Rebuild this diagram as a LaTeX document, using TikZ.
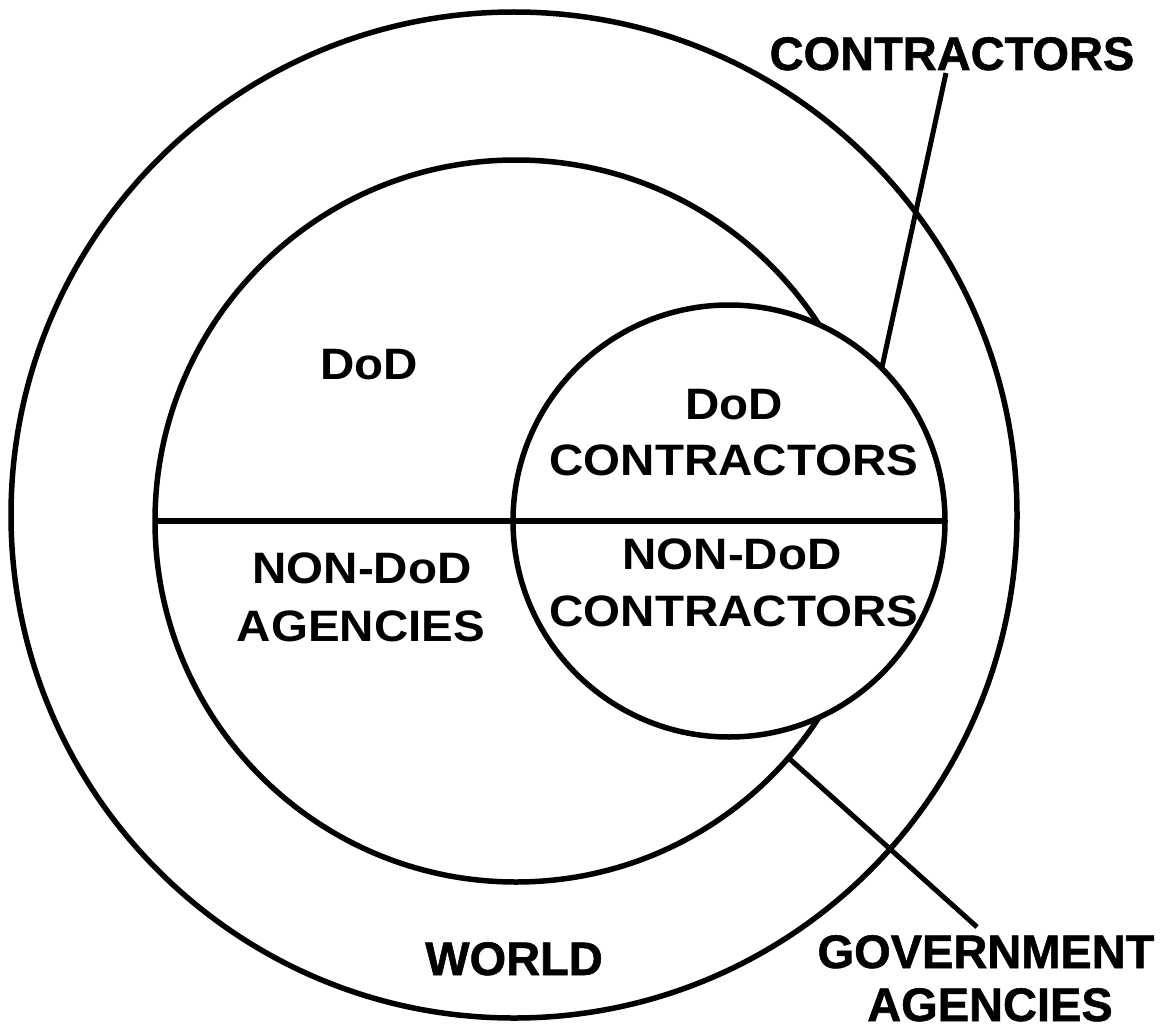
\documentclass[tikz,border=0pt]{standalone}
\usepackage{fontspec}
\setmainfont{Liberation Sans}
\newfontfamily\heavyfont{Liberation Sans Bold}[FakeBold=1.2]
\begin{document}
\begin{tikzpicture}[x=1pt,y=-1pt,
  ring/.style={circle, draw, line width=5.5pt, inner sep=0pt, outer sep=0pt},
  leader/.style={line width=5pt},
  intext/.style={anchor=base, inner sep=0pt, font=\fontsize{44}{50}\selectfont\bfseries},
  outtext/.style={anchor=base, inner sep=0pt, font=\fontsize{47}{54}\selectfont\heavyfont}]
\useasboundingbox (0,0) rectangle (1161,1030);
\node[ring, minimum size=1006pt] (world) at (514,515) {};
\node[ring, minimum size=722pt] (gov) at (516,521) {};
\node[ring, fill=white, minimum size=432pt] (contr) at (729,521) {};
\draw[line width=5.5pt] (gov.west) -- (contr.east);
\coordinate (ctop) at (946,73);
\coordinate (gbot) at (977,927);
\draw[leader] (contr.45.6) -- (ctop);
\draw[leader] (gov.-41.3) -- (gbot);
\node[intext] (dod) at (369,379) {\scalebox{1.08}[1]{DoD}};
\node[intext] (dodc1) at (734,419) {\scalebox{1.08}[1]{DoD}};
\node[intext] (dodc2) at (734,475) {\scalebox{1.08}[1]{CONTRACTORS}};
\node[intext] (ndc1) at (732,569) {\scalebox{1.08}[1]{NON-DoD}};
\node[intext] (ndc2) at (734,626) {\scalebox{1.08}[1]{CONTRACTORS}};
\node[intext] (nda1) at (362,583) {\scalebox{1.08}[1]{NON-DoD}};
\node[intext] (nda2) at (361,641) {\scalebox{1.08}[1]{AGENCIES}};
\node[outtext] (worldl) at (514,975) {WORLD};
\node[outtext] (govl1) at (986,968) {GOVERNMENT};
\node[outtext] (govl2) at (990,1021) {AGENCIES};
\node[outtext] (contrl) at (952,70) {CONTRACTORS};
\end{tikzpicture}
\end{document}
